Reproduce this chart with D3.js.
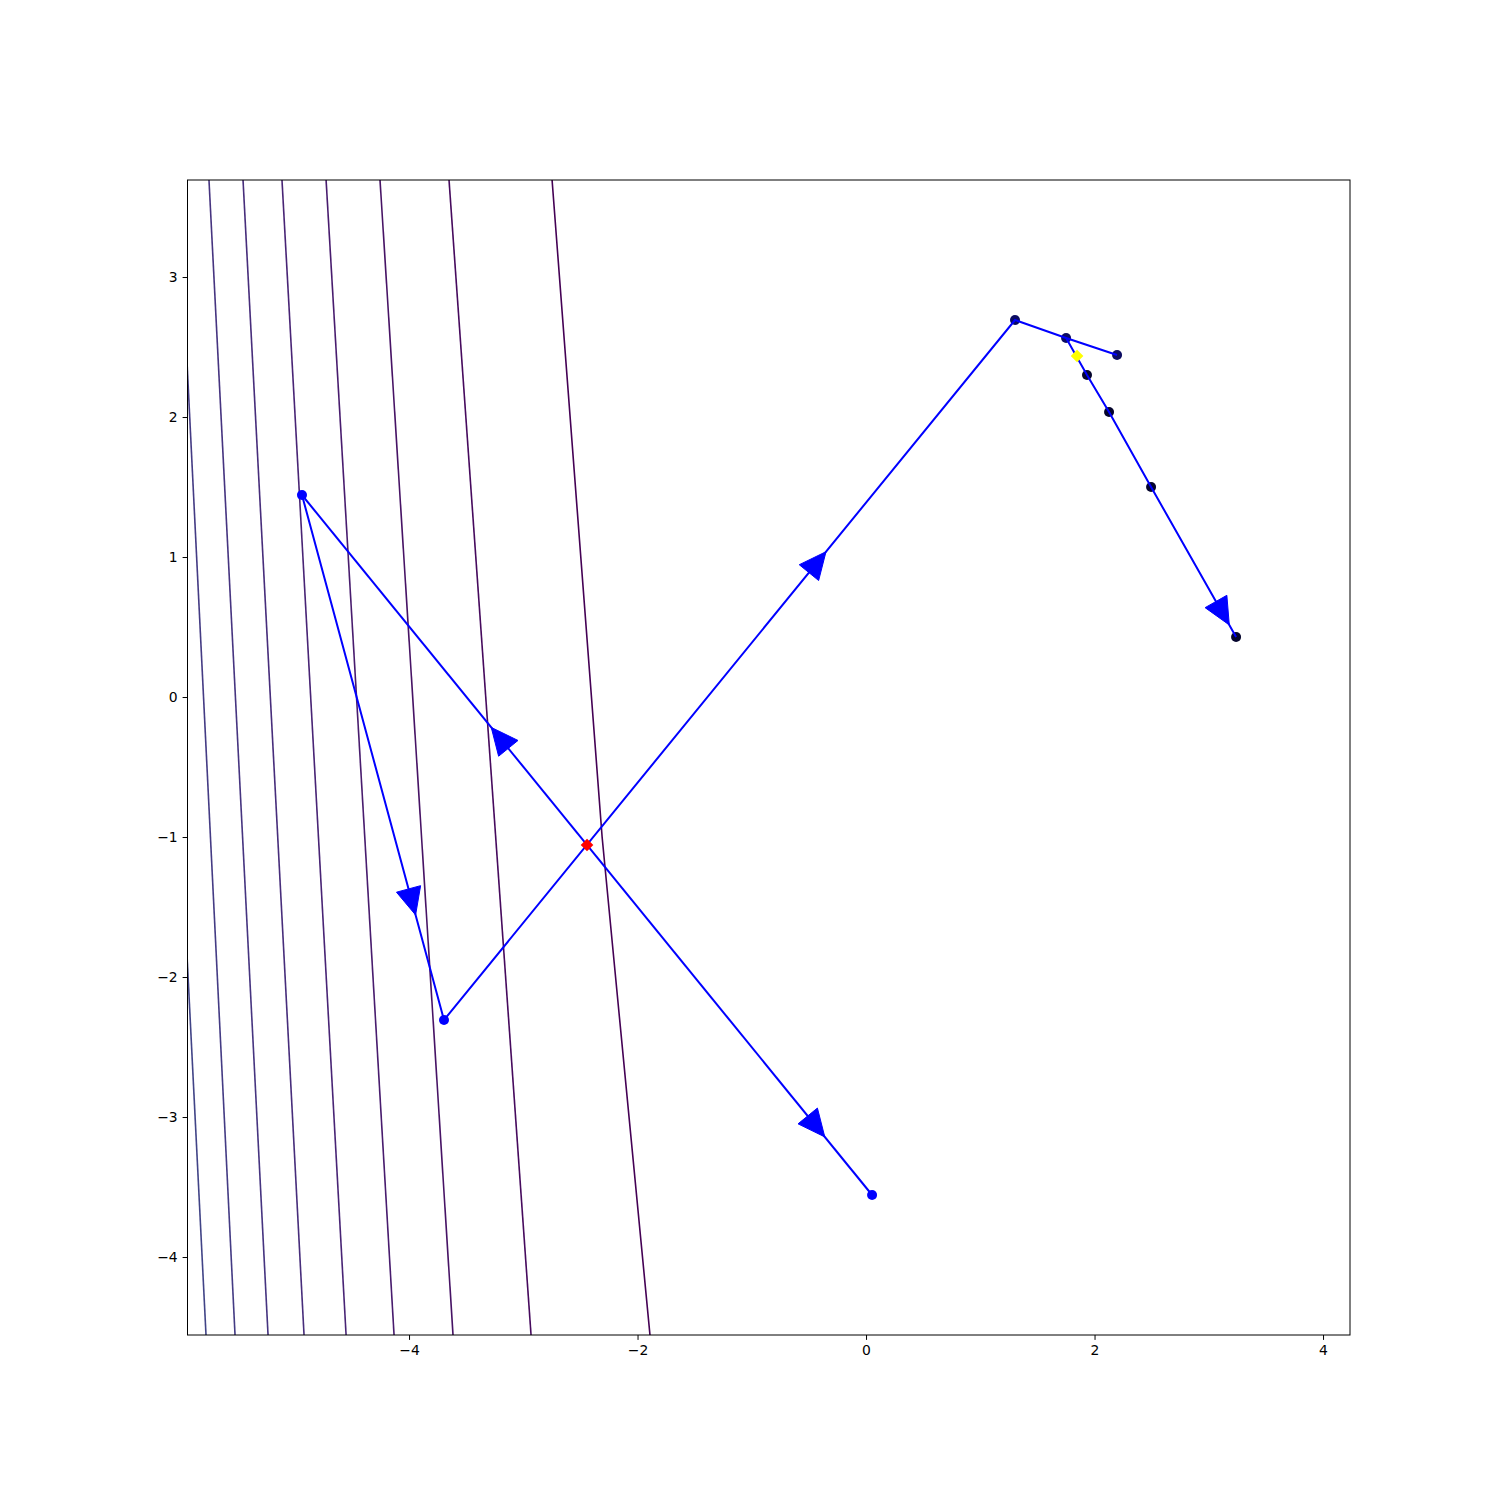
<!DOCTYPE html>
<html>
<head>
<meta charset="utf-8">
<script src="https://cdn.jsdelivr.net/npm/d3@7"></script>
<style>
  html, body { margin: 0; padding: 0; background: #fff; }
  svg { display: block; }
  text { font-family: "DejaVu Sans", sans-serif; }
</style>
</head>
<body>
<svg id="chart" width="1500" height="1500"></svg>
<script>
// ---------------- data ----------------
const xTicks = [-4, -2, 0, 2, 4];
const yTicks = [3, 2, 1, 0, -1, -2, -3, -4];
const xDomain = [-5.939, 4.236];
const yDomain = [-4.557, 3.693];

// contour lines (level index, polyline in data coords, top -> bottom)
const contourLevels = [0, 1, 2, 3, 4, 5, 6, 7, 8];
const contourLines = [
  [[-2.748, 3.693], [-2.31, -1.0], [-1.891, -4.557]],
  [[-3.650, 3.693], [-2.932, -4.557]],
  [[-4.254, 3.693], [-3.615, -4.557]],
  [[-4.726, 3.693], [-4.131, -4.557]],
  [[-5.112, 3.693], [-4.551, -4.557]],
  [[-5.453, 3.693], [-4.919, -4.557]],
  [[-5.751, 3.693], [-5.234, -4.557]],
  [[-6.022, 3.693], [-5.523, -4.557]],
  [[-6.283, 3.693], [-5.777, -4.557]]
];

// iterate points
const pointX = [-4.937, -3.694, 0.053, 1.304, 1.751, 2.197, 1.934, 2.127, 2.495, 3.239];
const pointY = [ 1.443, -2.307, -3.557, 2.693, 2.564, 2.443, 2.300, 2.036, 1.500, 0.429];
const pointKind = ["blue", "blue", "blue", "navy", "navy", "navy", "dark", "dark", "dark", "dark"];

// paths through point indices
const paths = [
  [0, 1, 3, 4, 5],
  [0, 2],
  [4, 6, 7, 8, 9]
];

// arrows: from point, to point, fraction along segment of the tip
const arrows = [
  { from: 0, to: 1, t: 0.80 },
  { from: 0, to: 2, t: 0.917 },
  { from: 1, to: 3, t: 0.669 },
  { from: 2, to: 0, t: 0.668 },
  { from: 8, to: 9, t: 0.92 }
];

// special markers
const startPoint = { x: -2.442, y: -1.057 };   // red
const bestPoint = { x: 1.847, y: 2.436 };      // yellow

// ---------------- drawing ----------------
const svg = d3.select("#chart");
const pLeft = 187.5, pRight = 1350, pTop = 180, pBottom = 1335;

const x = d3.scaleLinear().domain(xDomain).range([pLeft, pRight]);
const y = d3.scaleLinear().domain(yDomain).range([pBottom, pTop]);
const levelColor = d3.scaleSequential(d3.interpolateViridis).domain([0, 40]);

const pointColor = { blue: "#0000ff", navy: "#0b0b62", dark: "#04042c" };

svg.append("defs").append("clipPath").attr("id", "clip")
  .append("rect").attr("x", pLeft).attr("y", pTop)
  .attr("width", pRight - pLeft).attr("height", pBottom - pTop);

const plot = svg.append("g").attr("clip-path", "url(#clip)");

const line = d3.line().x(d => x(d[0])).y(d => y(d[1]));

// contours
plot.selectAll("path.contour").data(contourLines).join("path")
  .attr("class", "contour")
  .attr("d", d => line(d))
  .attr("fill", "none")
  .attr("stroke", (d, i) => levelColor(contourLevels[i]))
  .attr("stroke-width", 1.6);

// dark dots (under lines)
const idx = d3.range(pointX.length);
plot.selectAll("circle.dark").data(idx.filter(i => pointKind[i] !== "blue")).join("circle")
  .attr("class", "dark")
  .attr("cx", i => x(pointX[i])).attr("cy", i => y(pointY[i]))
  .attr("r", 5)
  .attr("fill", i => pointColor[pointKind[i]]);

// paths
const pline = d3.line().x(i => x(pointX[i])).y(i => y(pointY[i]));
plot.selectAll("path.iter").data(paths).join("path")
  .attr("class", "iter")
  .attr("d", d => pline(d))
  .attr("fill", "none")
  .attr("stroke", "#0000ff")
  .attr("stroke-width", 2);

// blue dots
plot.selectAll("circle.blue").data(idx.filter(i => pointKind[i] === "blue")).join("circle")
  .attr("class", "blue")
  .attr("cx", i => x(pointX[i])).attr("cy", i => y(pointY[i]))
  .attr("r", 5)
  .attr("fill", "#0000ff");

// arrow heads
const headLen = 27, headW = 25;
plot.selectAll("path.arrow").data(arrows).join("path")
  .attr("class", "arrow")
  .attr("d", a => {
    const x0 = x(pointX[a.from]), y0 = y(pointY[a.from]);
    const x1 = x(pointX[a.to]), y1 = y(pointY[a.to]);
    const tx = x0 + (x1 - x0) * a.t, ty = y0 + (y1 - y0) * a.t;
    const len = Math.hypot(x1 - x0, y1 - y0);
    const ux = (x1 - x0) / len, uy = (y1 - y0) / len;
    const bx = tx - ux * headLen, by = ty - uy * headLen;
    const nx = -uy, ny = ux;
    return `M${tx},${ty}L${bx + nx * headW / 2},${by + ny * headW / 2}L${bx - nx * headW / 2},${by - ny * headW / 2}Z`;
  })
  .attr("fill", "#0000ff")
  .attr("stroke", "#0000ff")
  .attr("stroke-width", 1);

// special markers (diamonds)
const diamond = d3.symbol().type(d3.symbolSquare).size(80);
plot.append("path").attr("d", diamond)
  .attr("transform", `translate(${x(startPoint.x)},${y(startPoint.y)}) rotate(45)`)
  .attr("fill", "#ff0000");
plot.append("path").attr("d", diamond)
  .attr("transform", `translate(${x(bestPoint.x)},${y(bestPoint.y)}) rotate(45)`)
  .attr("fill", "#ffff00");

// axes
const fmt = d => (d < 0 ? "\u2212" + Math.abs(d) : String(d));
const xAxis = d3.axisBottom(x).tickValues(xTicks).tickFormat(fmt).tickSize(4.9).tickPadding(4.9);
const yAxis = d3.axisLeft(y).tickValues(yTicks).tickFormat(fmt).tickSize(4.9).tickPadding(4.9);

const gx = svg.append("g").attr("transform", `translate(0,${pBottom})`).call(xAxis);
const gy = svg.append("g").attr("transform", `translate(${pLeft},0)`).call(yAxis);
[gx, gy].forEach(g => {
  g.select(".domain").remove();
  g.selectAll("line").attr("stroke", "#000").attr("stroke-width", 1);
  g.selectAll("text").attr("font-family", "DejaVu Sans").attr("font-size", "13.9px").attr("fill", "#000");
});

// frame
svg.append("rect").attr("x", pLeft).attr("y", pTop)
  .attr("width", pRight - pLeft).attr("height", pBottom - pTop)
  .attr("fill", "none").attr("stroke", "#000").attr("stroke-width", 1);
</script>
</body>
</html>
